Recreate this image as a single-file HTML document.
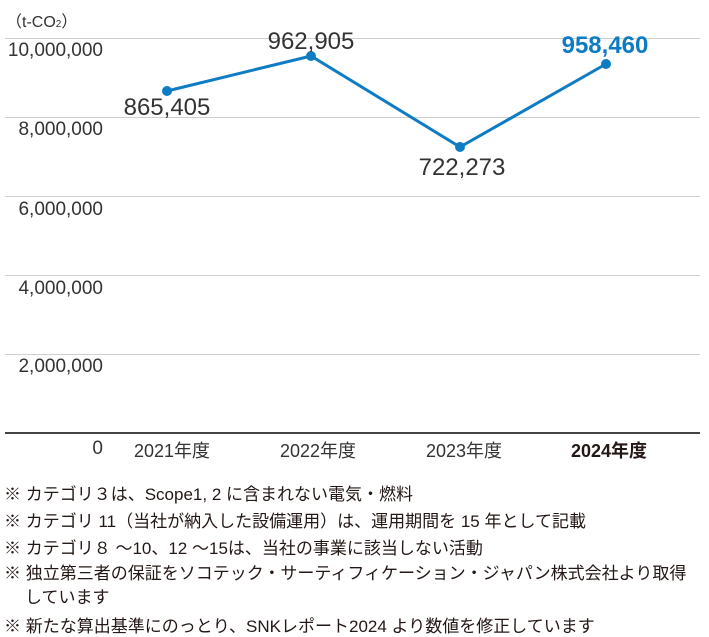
<!DOCTYPE html>
<html><head><meta charset="utf-8"><style>
body{margin:0;width:709px;height:634px;background:#fff;position:relative;overflow:hidden;font-family:"Liberation Sans","Noto Sans CJK JP",sans-serif;color:#231815}
.a{position:absolute;white-space:nowrap}
.g{position:absolute;left:5px;width:695px;height:1px;background:#cfcfcf}
.yl{position:absolute;right:606px;font-size:19px;color:#333}
.n{font-size:17px;left:4px;position:absolute;white-space:nowrap;color:#231815}
</style></head><body>
<div class="a" style="left:6px;top:8px;font-size:16px;color:#333">（t-CO<span style="font-size:10px">2</span>）</div>
<div class="g" style="top:38px"></div>
<div class="g" style="top:117px"></div>
<div class="g" style="top:196px"></div>
<div class="g" style="top:275px"></div>
<div class="g" style="top:354px"></div>
<div class="g" style="top:432px;height:2px;background:#444"></div>
<div class="yl" style="top:40px">10,000,000</div>
<div class="yl" style="top:119px">8,000,000</div>
<div class="yl" style="top:199px">6,000,000</div>
<div class="yl" style="top:278px">4,000,000</div>
<div class="yl" style="top:356px">2,000,000</div>
<div class="yl" style="top:438px">0</div>
<div class="a" style="left:134px;top:437px;font-size:18px;color:#333">2021年度</div>
<div class="a" style="left:280px;top:437px;font-size:18px;color:#333">2022年度</div>
<div class="a" style="left:426px;top:437px;font-size:18px;color:#333">2023年度</div>
<div class="a" style="left:571px;top:437px;font-size:18px;font-weight:bold">2024年度</div>
<svg width="709" height="634" style="position:absolute;left:0;top:0">
<polyline points="167,91 311,56 460,147 606,64" fill="none" stroke="#0e7cc4" stroke-width="3"/>
<g fill="#0e7cc4"><circle cx="167" cy="91" r="5"/><circle cx="311" cy="56" r="5"/><circle cx="460" cy="147" r="5"/><circle cx="606" cy="64" r="5"/></g>
<g font-family="Liberation Sans,sans-serif" font-size="24" fill="#333" text-anchor="middle">
<text x="167" y="115">865,405</text>
<text x="311" y="49">962,905</text>
<text x="462" y="175">722,273</text>
<text x="605" y="53" fill="#0e7cc4" font-weight="bold">958,460</text>
</g></svg>
<div class="n" style="top:480px">※ カテゴリ３は、Scope1, 2 に含まれない電気・燃料</div>
<div class="n" style="top:507px">※ カテゴリ 11（当社が納入した設備運用）は、運用期間を 15 年として記載</div>
<div class="n" style="top:534px">※ カテゴリ８ ～10、12 ～15は、当社の事業に該当しない活動</div>
<div class="n" style="top:559px">※ 独立第三者の保証をソコテック・サーティフィケーション・ジャパン株式会社より取得</div>
<div class="n" style="top:583px;left:25px">しています</div>
<div class="n" style="top:612px">※ 新たな算出基準にのっとり、SNKレポート2024 より数値を修正しています</div>
</body></html>
